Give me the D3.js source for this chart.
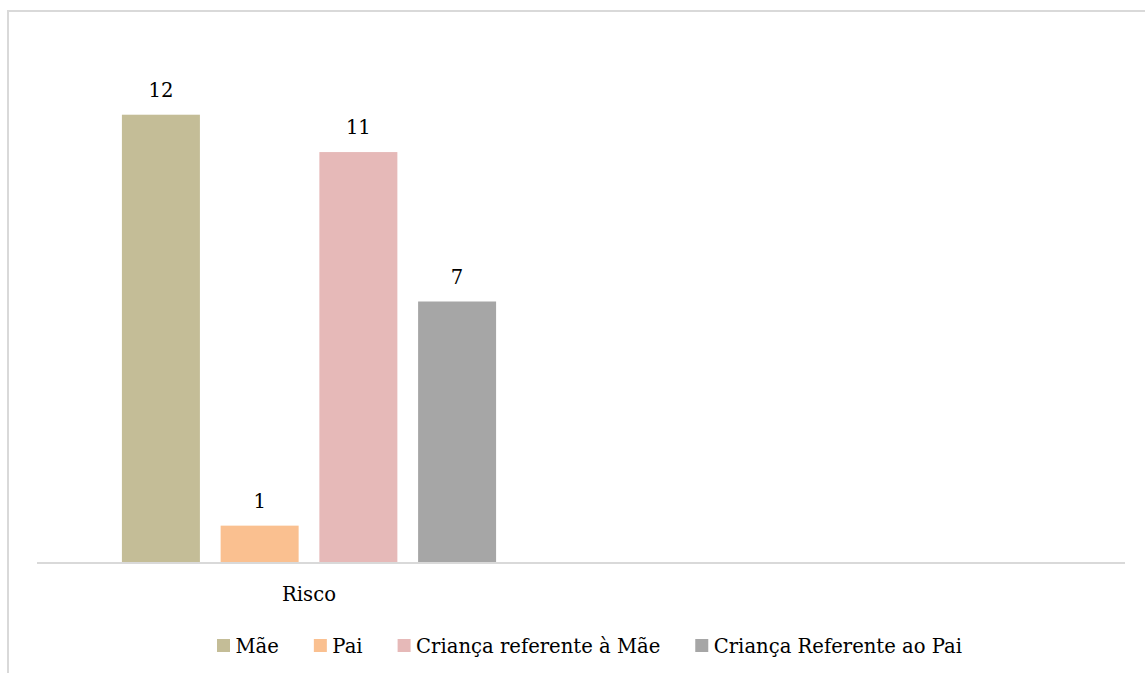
<!DOCTYPE html>
<html>
<head>
<meta charset="utf-8">
<script src="https://cdn.jsdelivr.net/npm/d3@7"></script>
<style>
  body { margin: 0; background: #fff; }
  svg { display: block; }
</style>
</head>
<body>
<div class="chart"></div>
<script>
var width = 1145; // svg 宽度
var height = 673; // svg 高度

// 数据
var categories = ["Risco", ""];
var seriesNames = ["Mãe", "Pai", "Criança referente à Mãe", "Criança Referente ao Pai"];
var seriesValues = [12, 1, 11, 7];
var seriesColors = ["#c4bd97", "#fac090", "#e6b9b8", "#a6a6a6"];

var font = "DejaVu Serif";
var fontSize = 19.6;

var svg = d3.select(".chart")
    .append("svg")
    .attr("width", width)
    .attr("height", height);

// 外框
svg.append("rect")
    .attr("x", 8)
    .attr("y", 11)
    .attr("width", width + 20)
    .attr("height", height + 20)
    .attr("fill", "none")
    .attr("stroke", "#d9d9d9")
    .attr("stroke-width", 2);

var plotLeft = 37, plotRight = 1125, plotTop = 40, plotBottom = 563;

var x = d3.scaleBand()
    .domain(categories)
    .range([plotLeft, plotRight]);

var xs = d3.scaleBand()
    .domain(seriesNames)
    .range([0, x.bandwidth()])
    .paddingInner(0.21)
    .paddingOuter(0.86);

var y = d3.scaleLinear()
    .domain([0, 14])
    .range([plotBottom, plotTop]);

// 柱子
var bars = svg.append("g")
    .selectAll("rect")
    .data(seriesNames.map((s, i) => ({ name: s, value: seriesValues[i], color: seriesColors[i] })))
    .enter();

bars.append("rect")
    .attr("x", d => x("Risco") + xs(d.name))
    .attr("y", d => y(d.value))
    .attr("width", xs.bandwidth())
    .attr("height", d => y(0) - y(d.value))
    .attr("fill", d => d.color);

// 数值标签
bars.append("text")
    .attr("x", d => x("Risco") + xs(d.name) + xs.bandwidth() / 2)
    .attr("y", d => y(d.value) - 18)
    .attr("text-anchor", "middle")
    .attr("font-family", font)
    .attr("font-size", fontSize)
    .attr("fill", "#000")
    .text(d => d.value);

// x 轴
var xAxis = svg.append("g")
    .attr("transform", `translate(0,${plotBottom})`)
    .call(d3.axisBottom(x).tickSize(0).tickPadding(0));
xAxis.select(".domain")
    .attr("stroke", "#d9d9d9")
    .attr("stroke-width", 2)
    .attr("d", `M${plotLeft},0H${plotRight}`);
xAxis.selectAll(".tick text")
    .attr("y", 38)
    .attr("dy", 0)
    .attr("font-family", font)
    .attr("font-size", fontSize)
    .attr("fill", "#000");

// 图例：方块 13px，文字间距 5.5，项间距 35
var legend = svg.append("g")
    .selectAll("g")
    .data(seriesNames)
    .enter()
    .append("g");

legend.append("rect")
    .attr("x", 0)
    .attr("y", 639)
    .attr("width", 13)
    .attr("height", 13)
    .attr("fill", (d, i) => seriesColors[i]);

legend.append("text")
    .attr("x", 18.5)
    .attr("y", 653)
    .attr("font-family", font)
    .attr("font-size", fontSize)
    .attr("fill", "#000")
    .text(d => d);

var lx = 217;
legend.each(function () {
    var g = d3.select(this);
    g.attr("transform", `translate(${lx},0)`);
    lx += 18.5 + g.select("text").node().getComputedTextLength() + 35;
});
</script>
</body>
</html>
